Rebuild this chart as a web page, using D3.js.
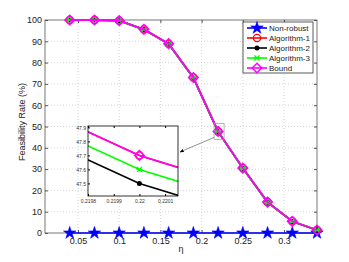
<!DOCTYPE html>
<html>
<head>
<meta charset="utf-8">
<script src="https://cdn.jsdelivr.net/npm/d3@7"></script>
<style>
  body { margin: 0; background: #fff; }
  svg { display: block; font-family: "Liberation Sans", Arial, sans-serif; }
</style>
</head>
<body>
<div id="chart"></div>
<script>
const etaValues = [0.04, 0.07, 0.10, 0.13, 0.16, 0.19, 0.22, 0.25, 0.28, 0.31, 0.34]
const nonRobust = [0, 0, 0, 0, 0, 0, 0, 0, 0, 0, 0]
const algorithm1 = [100, 100, 99.7, 95.6, 88.9, 73.0, 47.7, 30.5, 14.5, 5.5, 1.4]
const algorithm2 = [100, 100, 99.7, 95.5, 88.7, 72.8, 47.5, 30.4, 14.4, 5.4, 1.3]
const algorithm3 = [100, 100, 99.7, 95.5, 88.8, 72.9, 47.6, 30.4, 14.4, 5.5, 1.4]
const bound = [100, 100, 99.7, 95.6, 88.9, 73.0, 47.7, 30.5, 14.5, 5.5, 1.4]
const xTicks = [0.05, 0.1, 0.15, 0.2, 0.25, 0.3]
const yTicks = [0, 10, 20, 30, 40, 50, 60, 70, 80, 90, 100]
const insetXTicks = [0.2198, 0.2199, 0.22, 0.2201]
const insetYTicks = [47.5, 47.6, 47.7, 47.8, 47.9]

const W = 349, H = 262
const svg = d3.select('#chart').append('svg')
    .attr('width', W).attr('height', H)

const plot = { left: 45, right: 317, top: 20, bottom: 233 }
const x = d3.scaleLinear().domain([0.01, 0.34]).range([plot.left, plot.right])
const y = d3.scaleLinear().domain([0, 100]).range([plot.bottom, plot.top])

const series = [
    { name: 'Non-robust', values: nonRobust, color: '#0000ff', marker: 'star' },
    { name: 'Algorithm-1', values: algorithm1, color: '#ff0000', marker: 'circle' },
    { name: 'Algorithm-2', values: algorithm2, color: '#000000', marker: 'dot' },
    { name: 'Algorithm-3', values: algorithm3, color: '#00ff00', marker: 'x' },
    { name: 'Bound', values: bound, color: '#ff00ff', marker: 'diamond' }
]

function drawMarker(g, type, color, cx, cy) {
    if (type === 'star') {
        g.append('path').attr('d', d3.symbol(d3.symbolStar, 48)())
            .attr('transform', `translate(${cx},${cy})`)
            .attr('fill', color).attr('stroke', color).attr('stroke-width', 0.6)
    } else if (type === 'circle') {
        g.append('circle').attr('cx', cx).attr('cy', cy).attr('r', 3.6)
            .attr('fill', 'none').attr('stroke', color).attr('stroke-width', 1.3)
    } else if (type === 'dot') {
        g.append('circle').attr('cx', cx).attr('cy', cy).attr('r', 2.5)
            .attr('fill', color)
    } else if (type === 'x') {
        g.append('path').attr('d', `M${cx - 2.5},${cy - 2.5}L${cx + 2.5},${cy + 2.5}M${cx - 2.5},${cy + 2.5}L${cx + 2.5},${cy - 2.5}M${cx - 3},${cy}L${cx + 3},${cy}`)
            .attr('stroke', color).attr('stroke-width', 1.3)
    } else if (type === 'diamond') {
        g.append('path').attr('d', `M${cx},${cy - 4.8}L${cx + 4.8},${cy}L${cx},${cy + 4.8}L${cx - 4.8},${cy}Z`)
            .attr('fill', 'none').attr('stroke', color).attr('stroke-width', 1.5)
    }
}

// grid
const grid = svg.append('g')
grid.selectAll('.gx').data(xTicks).enter().append('line')
    .attr('x1', d => x(d)).attr('x2', d => x(d))
    .attr('y1', plot.top).attr('y2', plot.bottom)
    .attr('stroke', '#bbb').attr('stroke-width', 0.6).attr('stroke-dasharray', '1,2')
grid.selectAll('.gy').data(yTicks.slice(1, -1)).enter().append('line')
    .attr('x1', plot.left).attr('x2', plot.right)
    .attr('y1', d => y(d)).attr('y2', d => y(d))
    .attr('stroke', '#bbb').attr('stroke-width', 0.6).attr('stroke-dasharray', '1,2')

// frame + ticks
svg.append('rect')
    .attr('x', plot.left).attr('y', plot.top)
    .attr('width', plot.right - plot.left).attr('height', plot.bottom - plot.top)
    .attr('fill', 'none').attr('stroke', '#555').attr('stroke-width', 0.8)

const xAxis = svg.append('g').attr('transform', `translate(0,${plot.bottom})`)
    .call(d3.axisBottom(x).tickValues(xTicks).tickSize(-3).tickPadding(5).tickFormat(d3.format('')))
const xAxisTop = svg.append('g').attr('transform', `translate(0,${plot.top})`)
    .call(d3.axisTop(x).tickValues(xTicks).tickSize(-3).tickFormat(''))
const yAxis = svg.append('g').attr('transform', `translate(${plot.left},0)`)
    .call(d3.axisLeft(y).tickValues(yTicks).tickSize(-3).tickPadding(3))
const yAxisRight = svg.append('g').attr('transform', `translate(${plot.right},0)`)
    .call(d3.axisRight(y).tickValues(yTicks).tickSize(-3).tickFormat(''))
for (const a of [xAxis, xAxisTop, yAxis, yAxisRight]) {
    a.select('.domain').remove()
    a.selectAll('line').attr('stroke', '#555')
    a.selectAll('text').attr('font-size', 9).attr('fill', '#222')
        .attr('font-family', '"Liberation Sans", Arial, sans-serif')
}

svg.append('text').attr('x', 181).attr('y', 252).attr('text-anchor', 'middle')
    .attr('font-size', 9).attr('fill', '#222').text('η')
svg.append('text').attr('transform', 'translate(25,122) rotate(-90)')
    .attr('text-anchor', 'middle').attr('font-size', 9).attr('fill', '#222')
    .text('Feasibility Rate (%)')

// series
const line = d3.line()
for (const s of series) {
    const pts = etaValues.map((e, i) => [x(e), y(s.values[i])])
    svg.append('path').attr('d', line(pts)).attr('fill', 'none')
        .attr('stroke', s.color).attr('stroke-width', s.marker === 'star' ? 1.6 : 1.8)
    const mg = svg.append('g')
    pts.forEach(p => drawMarker(mg, s.marker, s.color, p[0], p[1]))
}

// zoom box + arrow
const zx = x(0.22), zy = y(47.7)
svg.append('rect').attr('x', zx - 4).attr('y', zy - 8).attr('width', 10).attr('height', 16)
    .attr('fill', 'none').attr('stroke', '#999').attr('stroke-width', 0.7)
svg.append('defs').append('marker').attr('id', 'arrow')
    .attr('viewBox', '0 0 10 10').attr('refX', 9).attr('refY', 5)
    .attr('markerWidth', 6).attr('markerHeight', 6).attr('orient', 'auto')
    .append('path').attr('d', 'M0,1L10,5L0,9Z').attr('fill', '#000')
svg.append('line').attr('x1', zx - 4).attr('y1', zy + 6).attr('x2', 180).attr('y2', 152)
    .attr('stroke', '#666').attr('stroke-width', 0.7).attr('marker-end', 'url(#arrow)')

// inset
const inset = { left: 88, right: 178, top: 126, bottom: 196 }
const ix = d3.scaleLinear().domain([0.2198, 0.22015]).range([inset.left, inset.right])
const iy = d3.scaleLinear().domain([47.41, 47.91]).range([inset.bottom, inset.top])
svg.select('defs').append('clipPath').attr('id', 'insetClip')
    .append('rect').attr('x', inset.left).attr('y', inset.top)
    .attr('width', inset.right - inset.left).attr('height', inset.bottom - inset.top)
svg.append('rect').attr('x', inset.left).attr('y', inset.top)
    .attr('width', inset.right - inset.left).attr('height', inset.bottom - inset.top)
    .attr('fill', '#fff')
const ig = svg.append('g').attr('clip-path', 'url(#insetClip)')
for (const s of series.slice(1)) {
    const pts = etaValues.map((e, i) => [ix(e), iy(s.values[i])])
    ig.append('path').attr('d', line(pts)).attr('fill', 'none')
        .attr('stroke', s.color).attr('stroke-width', 1.6)
    const k = etaValues.indexOf(0.22)
    drawMarker(ig, s.marker, s.color, ix(etaValues[k]), iy(s.values[k]))
}
svg.append('rect').attr('x', inset.left).attr('y', inset.top)
    .attr('width', inset.right - inset.left).attr('height', inset.bottom - inset.top)
    .attr('fill', 'none').attr('stroke', '#000').attr('stroke-width', 0.8)
const ixAxis = svg.append('g').attr('transform', `translate(0,${inset.bottom})`)
    .call(d3.axisBottom(ix).tickValues(insetXTicks).tickSize(-2).tickPadding(3).tickFormat(d3.format('')))
const ixAxisTop = svg.append('g').attr('transform', `translate(0,${inset.top})`)
    .call(d3.axisTop(ix).tickValues(insetXTicks).tickSize(-2).tickFormat(''))
const iyAxis = svg.append('g').attr('transform', `translate(${inset.left},0)`)
    .call(d3.axisLeft(iy).tickValues(insetYTicks).tickSize(-2).tickPadding(2).tickFormat(d3.format('.1f')))
for (const a of [ixAxis, ixAxisTop, iyAxis]) {
    a.select('.domain').remove()
    a.selectAll('line').attr('stroke', '#000')
    a.selectAll('text').attr('font-size', 5).attr('fill', '#333')
        .attr('font-family', '"Liberation Sans", Arial, sans-serif')
}

// legend
const legend = svg.append('g')
legend.append('rect').attr('x', 243).attr('y', 22).attr('width', 70).attr('height', 51)
    .attr('fill', '#fff').attr('stroke', '#333').attr('stroke-width', 0.8)
series.forEach((s, i) => {
    const ly = 28 + i * 10
    legend.append('line').attr('x1', 247).attr('x2', 267).attr('y1', ly).attr('y2', ly)
        .attr('stroke', s.color).attr('stroke-width', 1.6)
    drawMarker(legend, s.marker, s.color, 257, ly)
    legend.append('text').attr('x', 269).attr('y', ly + 3).attr('font-size', 8)
        .attr('fill', '#222').text(s.name)
})
</script>
</body>
</html>
